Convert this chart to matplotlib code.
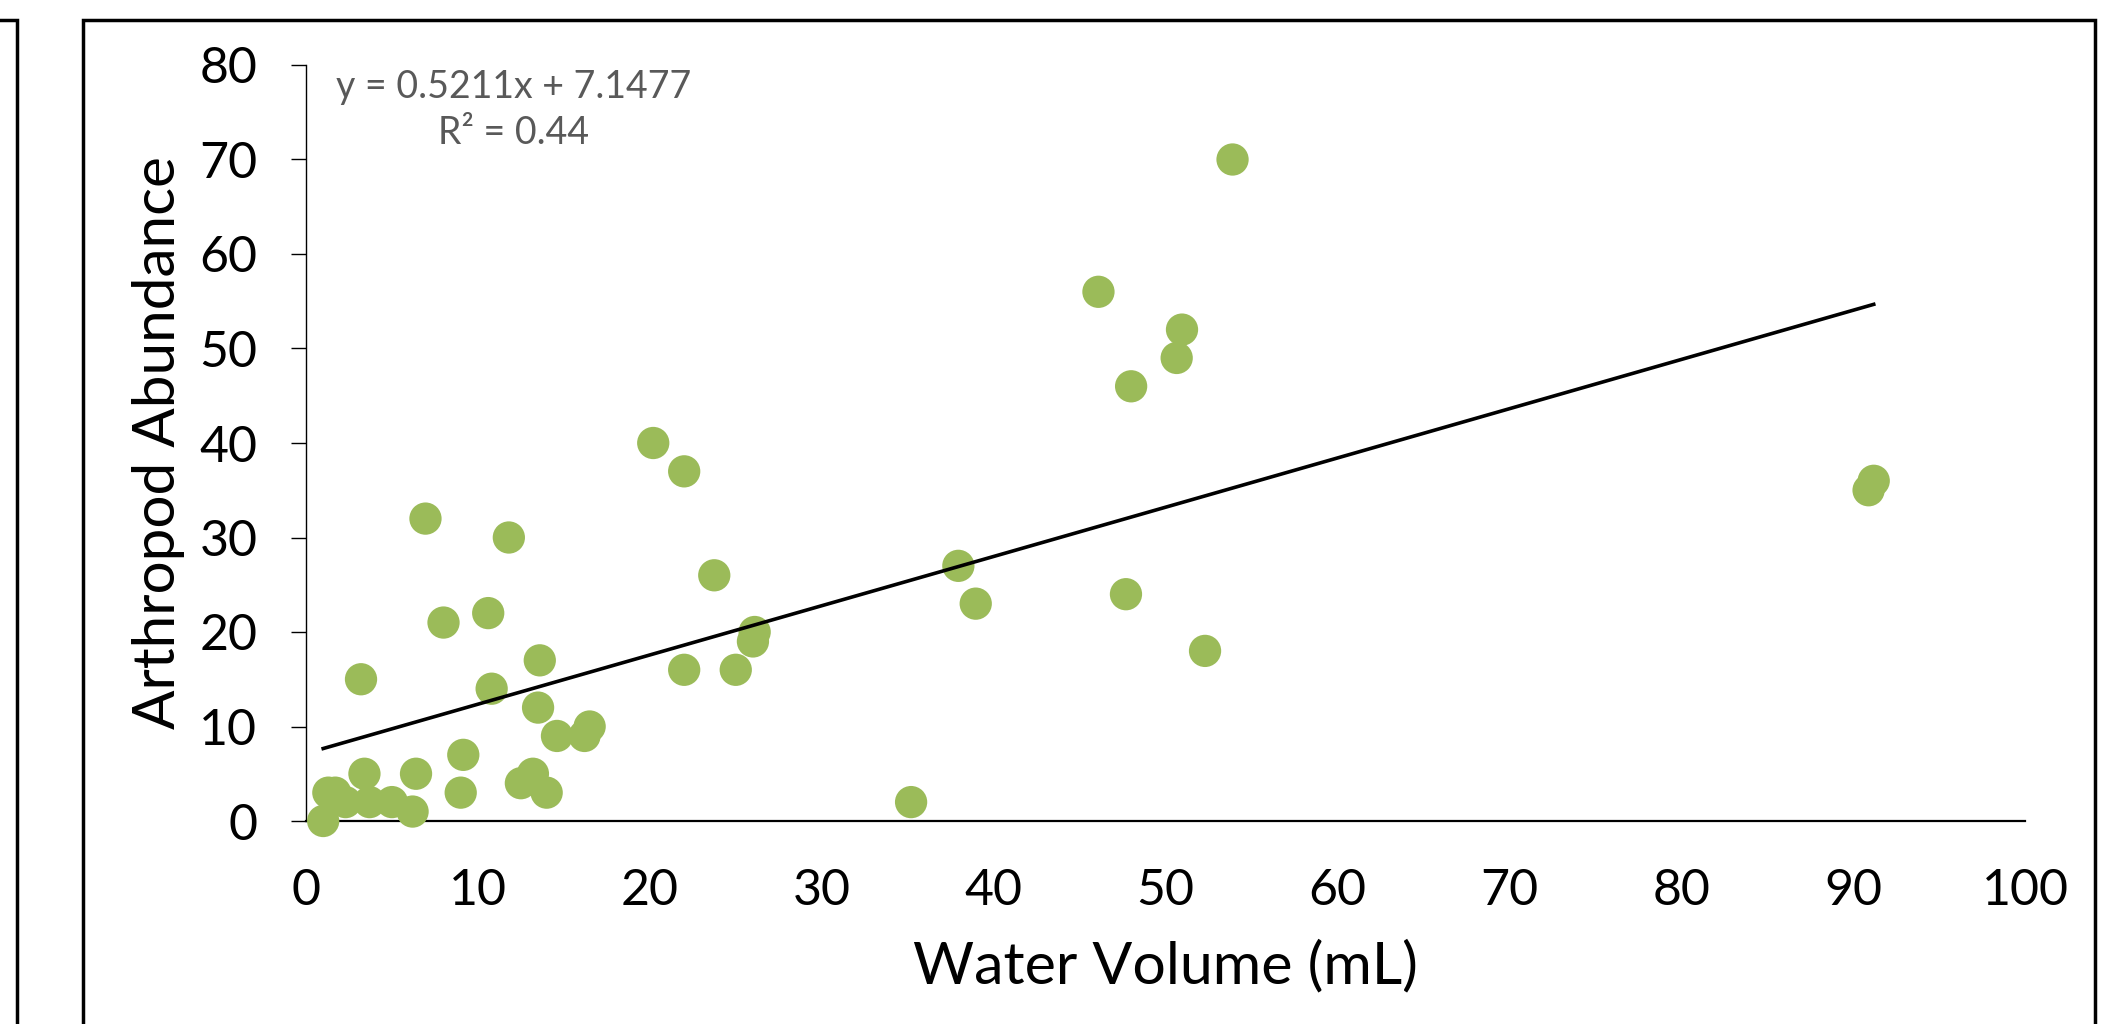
import matplotlib
matplotlib.use("Agg")
import matplotlib.pyplot as plt
from matplotlib.patches import Rectangle
import numpy as np

# ---- data ----
water_volume = [1.0, 1.3, 1.7, 2.3, 3.2, 3.4, 3.7, 5.0, 6.2, 6.4,
                6.95, 8.0, 9.0, 9.15, 10.6, 10.8, 11.8, 12.5, 13.2, 13.5,
                13.6, 14.0, 14.6, 16.2, 16.5, 20.2, 22.0, 22.0, 23.75, 25.0,
                26.0, 26.1, 35.2, 37.95, 38.96, 46.1, 47.7, 48.0, 50.65, 50.96,
                52.3, 53.9, 90.9, 91.2]
abundance = [0, 3, 3, 2, 15, 5, 2, 2, 1, 5,
             32, 21, 3, 7, 22, 14, 30, 4, 5, 12,
             17, 3, 9, 9, 10, 40, 37, 16, 26, 16,
             19, 20, 2, 27, 23, 56, 24, 46, 49, 52,
             18, 70, 35, 36]
slope = 0.5211
intercept = 7.1477
r_squared = 0.44
x_ticks = [0, 10, 20, 30, 40, 50, 60, 70, 80, 90, 100]
y_ticks = [0, 10, 20, 30, 40, 50, 60, 70, 80]

plt.rcParams['font.family'] = ['Lato', 'DejaVu Sans']

W, H = 2104, 1024
fig = plt.figure(figsize=(W / 100, H / 100), dpi=100)
fig.patch.set_facecolor('white')

# frames
lw_frame = 2.5
fig.patches.append(Rectangle((-100 / W, -0.2), (17 + 100) / W, 1.2 - 20 / H,
                             transform=fig.transFigure, fill=False,
                             edgecolor='black', linewidth=lw_frame, clip_on=False))
fig.patches.append(Rectangle((83 / W, -0.2), (2095 - 83) / W, 1.2 - 20 / H,
                             transform=fig.transFigure, fill=False,
                             edgecolor='black', linewidth=lw_frame, clip_on=False))

ax = fig.add_axes([306 / W, 1 - 821 / H, (2025 - 306) / W, (821 - 65) / H])
ax.set_xlim(0, 100)
ax.set_ylim(0, 80)

ax.scatter(water_volume, abundance, s=540, color='#9BBB59', edgecolors='none',
           zorder=3, clip_on=False)

xs = np.array([min(water_volume), max(water_volume)])
ax.plot(xs, slope * xs + intercept, color='black', linewidth=2.6, zorder=4)

for s in ['top', 'right']:
    ax.spines[s].set_visible(False)
ax.spines['left'].set_linewidth(1.0)
ax.spines['bottom'].set_linewidth(1.6)

ax.set_xticks(x_ticks)
ax.set_yticks(y_ticks)
ax.tick_params(axis='y', direction='out', length=11, width=1.0, pad=24,
               labelsize=36)
ax.tick_params(axis='x', length=0, pad=34, labelsize=36)

ax.set_xlabel('Water Volume (mL)', fontsize=42.5, labelpad=18)
ax.set_ylabel('Arthropod Abundance', fontsize=42, labelpad=10)

ax.text(514 / W, 1 - 110 / H,
        f'y = {slope}x + {intercept}\nR² = {r_squared}',
        transform=fig.transFigure, ha='center', va='center',
        multialignment='center', fontsize=27, color='#595959', linespacing=1.35)

fig.savefig('out.png', dpi=100, facecolor='white')
